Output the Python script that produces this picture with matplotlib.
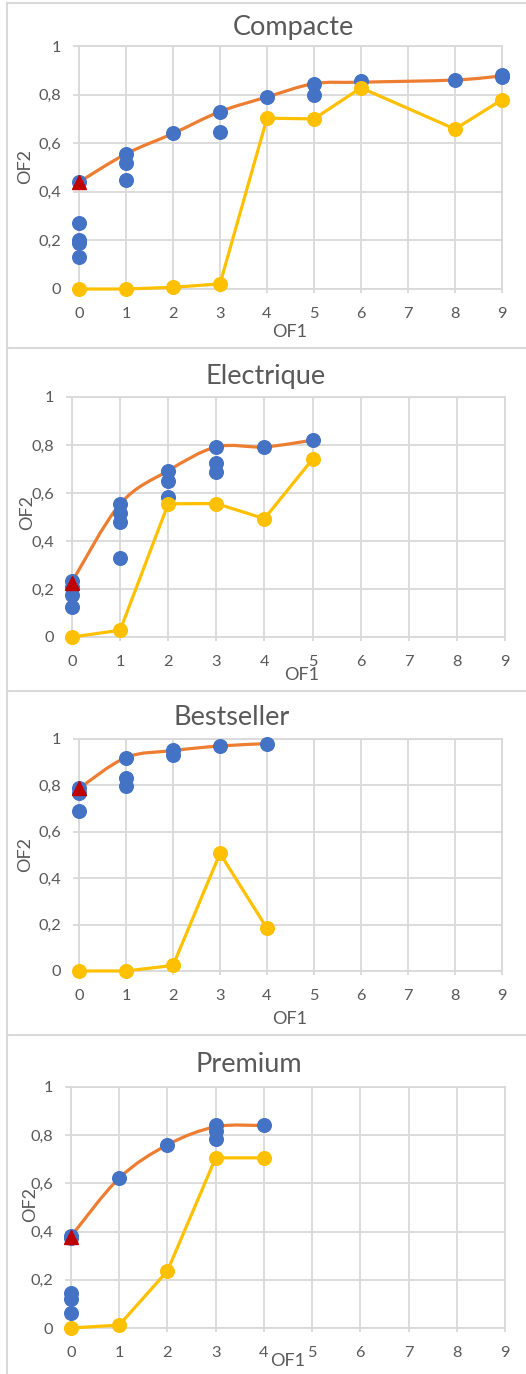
import matplotlib
matplotlib.use("Agg")
import matplotlib.pyplot as plt
from matplotlib.path import Path
from matplotlib.patches import PathPatch
from matplotlib.lines import Line2D

plt.rcParams['font.family'] = ['Lato', 'DejaVu Sans']

# ---------------- data ----------------
titles = ["Compacte", "Electrique", "Bestseller", "Premium"]
x_ticks = [0, 1, 2, 3, 4, 5, 6, 7, 8, 9]
y_ticks = [0, 0.2, 0.4, 0.6, 0.8, 1]
y_tick_labels = ["0", "0,2", "0,4", "0,6", "0,8", "1"]

compacte_blue_x = [0, 0, 0, 0, 0, 1, 1, 1, 2, 3, 3, 4, 5, 5, 6, 8, 9, 9]
compacte_blue_y = [0.44, 0.27, 0.20, 0.19, 0.13, 0.556, 0.52, 0.45, 0.64, 0.73, 0.648,
                   0.79, 0.845, 0.80, 0.854, 0.861, 0.882, 0.872]
compacte_orange_x = [0, 1, 2, 3, 4, 5, 6, 8, 9]
compacte_orange_y = [0.44, 0.556, 0.64, 0.73, 0.79, 0.845, 0.851, 0.86, 0.877]
compacte_yellow_x = [0, 1, 2, 3, 4, 5, 6, 8, 9]
compacte_yellow_y = [0.0, 0.0, 0.007, 0.021, 0.703, 0.70, 0.828, 0.658, 0.779]
compacte_start = (0, 0.44)

electrique_blue_x = [0, 0, 0, 0, 1, 1, 1, 1, 2, 2, 2, 3, 3, 3, 4, 5]
electrique_blue_y = [0.235, 0.21, 0.176, 0.127, 0.554, 0.515, 0.481, 0.328,
                     0.693, 0.651, 0.582, 0.792, 0.723, 0.688, 0.792, 0.82]
electrique_orange_x = [0, 1, 2, 3, 4, 5]
electrique_orange_y = [0.23, 0.554, 0.693, 0.792, 0.792, 0.82]
electrique_yellow_x = [0, 1, 2, 3, 4, 5]
electrique_yellow_y = [0.0, 0.028, 0.555, 0.556, 0.493, 0.741]
electrique_start = (0, 0.226)

bestseller_blue_x = [0, 0, 0, 1, 1, 1, 2, 2, 3, 4]
bestseller_blue_y = [0.787, 0.769, 0.69, 0.92, 0.83, 0.797, 0.953, 0.931, 0.971, 0.98]
bestseller_orange_x = [0, 1, 2, 3, 4]
bestseller_orange_y = [0.787, 0.92, 0.95, 0.97, 0.98]
bestseller_yellow_x = [0, 1, 2, 3, 4]
bestseller_yellow_y = [0.0, 0.0, 0.024, 0.507, 0.184]
bestseller_start = (0, 0.787)

premium_blue_x = [0, 0, 0, 0, 0, 1, 2, 3, 3, 3, 4]
premium_blue_y = [0.382, 0.375, 0.147, 0.119, 0.061, 0.622, 0.76, 0.841, 0.816, 0.785, 0.843]
premium_orange_x = [0, 1, 2, 3, 4]
premium_orange_y = [0.38, 0.622, 0.76, 0.835, 0.84]
premium_yellow_x = [0, 1, 2, 3, 4]
premium_yellow_y = [0.0, 0.012, 0.237, 0.706, 0.706]
premium_start = (0, 0.377)

panels = [
    (compacte_blue_x, compacte_blue_y, compacte_orange_x, compacte_orange_y,
     compacte_yellow_x, compacte_yellow_y, compacte_start),
    (electrique_blue_x, electrique_blue_y, electrique_orange_x, electrique_orange_y,
     electrique_yellow_x, electrique_yellow_y, electrique_start),
    (bestseller_blue_x, bestseller_blue_y, bestseller_orange_x, bestseller_orange_y,
     bestseller_yellow_x, bestseller_yellow_y, bestseller_start),
    (premium_blue_x, premium_blue_y, premium_orange_x, premium_orange_y,
     premium_yellow_x, premium_yellow_y, premium_start),
]

# ---------------- layout (pixels) ----------------
W, H = 526, 1374
axes_px = [(79, 502, 46, 289), (72, 505, 397, 637), (79, 502, 739, 971), (71, 505, 1087, 1328)]
title_px = [(293, 28), (266, 376), (232, 717), (249, 1064)]
xlabel_px = [(290, 332), (302, 675), (290, 1019), (288, 1361)]
ylabel_px = [(25, 167), (27, 513), (25, 855), (30, 1205)]
border_y = [3, 347.5, 691, 1035]

BLUE = "#4472C4"
ORANGE = "#ED7D31"
YELLOW = "#FFC000"
RED = "#C00000"
GRID = "#D9D9D9"
TEXT = "#595959"

fig = plt.figure(figsize=(W / 100, H / 100), dpi=100)


def fx(x):
    return x / W


def fy(y):
    return 1 - y / H


# panel borders
for by in border_y:
    fig.add_artist(Line2D([fx(7), 1.0], [fy(by), fy(by)], color=GRID, lw=1.5,
                          transform=fig.transFigure))
fig.add_artist(Line2D([fx(7), fx(7)], [fy(3), 0.0], color=GRID, lw=1.5,
                      transform=fig.transFigure))


def smooth_path(xs, ys):
    pts = list(zip(xs, ys))
    n = len(pts)
    verts = [pts[0]]
    codes = [Path.MOVETO]
    for i in range(n - 1):
        p_prev = pts[i - 1] if i > 0 else pts[i]
        p0 = pts[i]
        p1 = pts[i + 1]
        p_next = pts[i + 2] if i + 2 < n else pts[i + 1]
        c1 = (p0[0] + (p1[0] - p_prev[0]) / 6, p0[1] + (p1[1] - p_prev[1]) / 6)
        c2 = (p1[0] - (p_next[0] - p0[0]) / 6, p1[1] - (p_next[1] - p0[1]) / 6)
        verts += [c1, c2, p1]
        codes += [Path.CURVE4] * 3
    return Path(verts, codes)


for k, (bx, by, ox, oy, yx, yy, start) in enumerate(panels):
    l, r, t, b = axes_px[k]
    ax = fig.add_axes([fx(l), fy(b), (r - l) / W, (b - t) / H])
    ax.set_xlim(0, 9)
    ax.set_ylim(0, 1)
    ax.set_xticks(x_ticks)
    ax.set_xticklabels([str(v) for v in x_ticks])
    ax.set_yticks(y_ticks)
    ax.set_yticklabels(y_tick_labels)
    ax.grid(True, color=GRID, lw=1.3)
    ax.set_axisbelow(True)
    for s in ax.spines.values():
        s.set_color(GRID)
        s.set_linewidth(1.3)
    ax.tick_params(axis='y', length=4, width=1.3, color=GRID, labelcolor=TEXT,
                   labelsize=11.8, pad=9)
    ax.tick_params(axis='x', length=3, width=1.3, color=GRID, labelcolor=TEXT,
                   labelsize=11.8, pad=10)

    patch = PathPatch(smooth_path(ox, oy), facecolor='none', edgecolor=ORANGE,
                      lw=2.3, zorder=3, clip_on=False, capstyle='round')
    ax.add_patch(patch)
    ax.plot(bx, by, linestyle='none', marker='o', ms=9.8, color=BLUE,
            zorder=4, clip_on=False)
    ax.plot(yx, yy, color=YELLOW, lw=2.3, marker='o', ms=9.8, zorder=5,
            clip_on=False)
    ax.plot([start[0]], [start[1]], linestyle='none', marker='^', ms=9.8,
            color=RED, zorder=6, clip_on=False)

    fig.text(fx(title_px[k][0]), fy(title_px[k][1]), titles[k], ha='center',
             va='center', fontsize=19.5, color=TEXT)
    fig.text(fx(xlabel_px[k][0]), fy(xlabel_px[k][1]), "OF1", ha='center',
             va='center', fontsize=13, color=TEXT)
    fig.text(fx(ylabel_px[k][0]), fy(ylabel_px[k][1]), "OF2", ha='center',
             va='center', fontsize=13, color=TEXT, rotation=90)

fig.savefig("out.png", dpi=100, facecolor="white")
